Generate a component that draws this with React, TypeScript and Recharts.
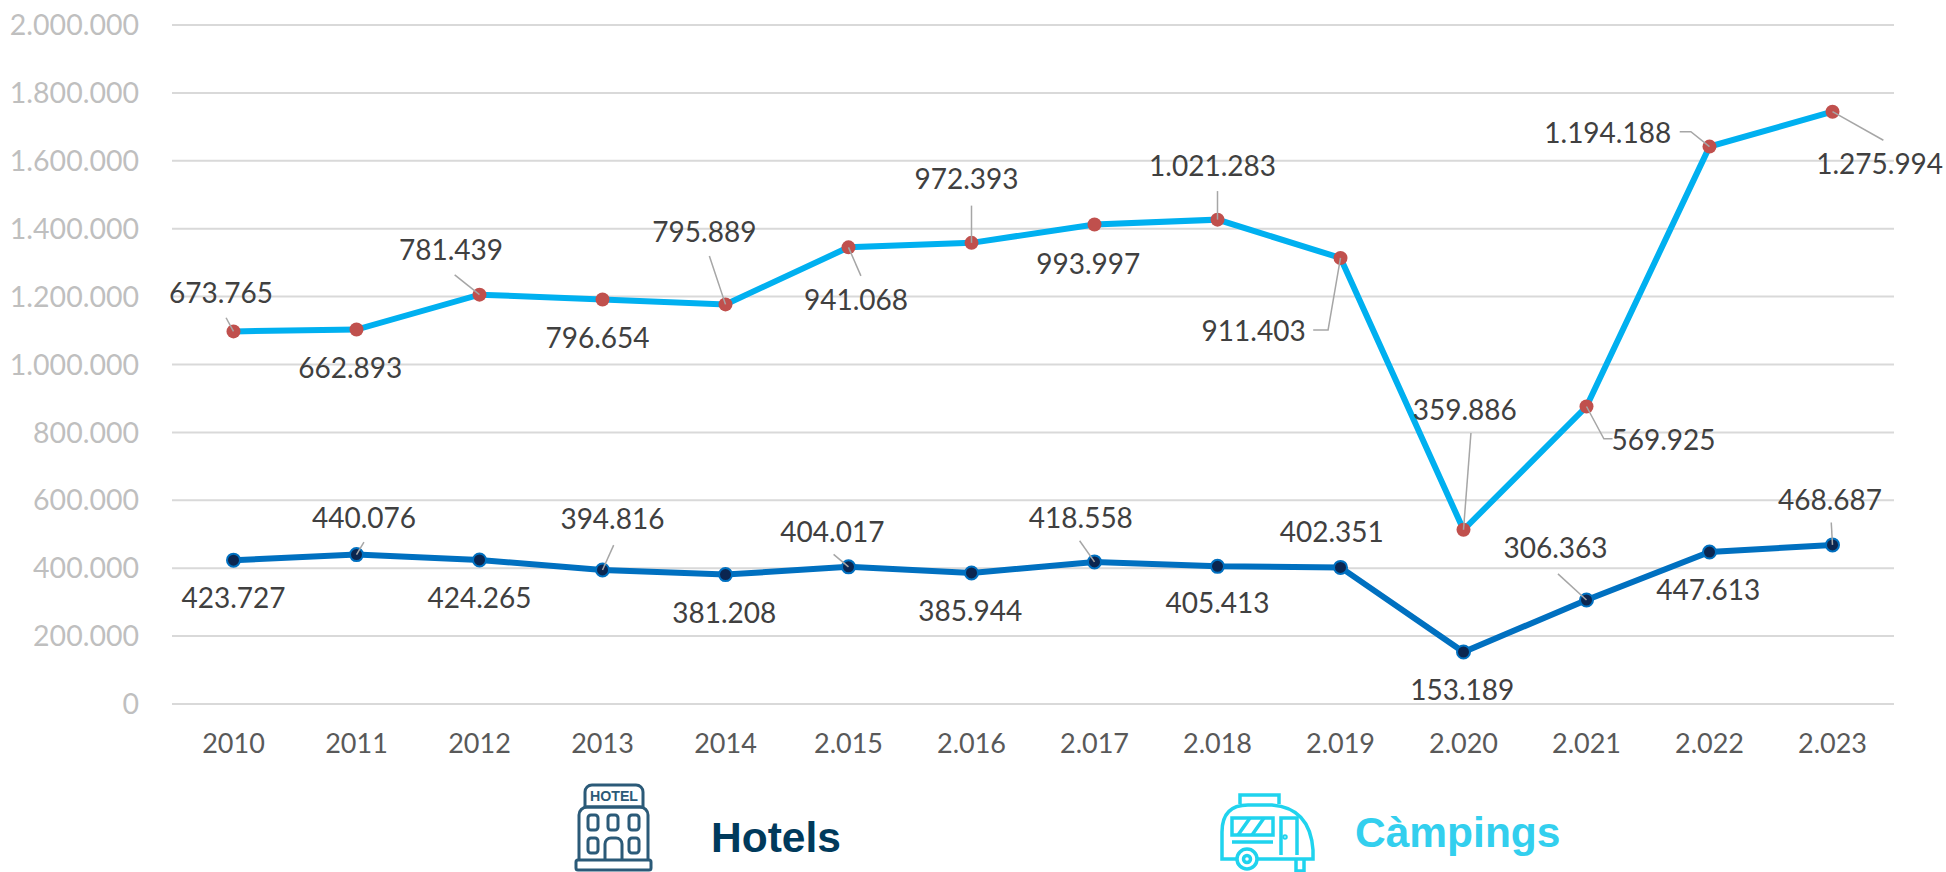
import React from 'react';
import { LineChart, Line, XAxis, YAxis, CartesianGrid, LabelList } from 'recharts';

const years = ['2010', '2011', '2012', '2013', '2014', '2.015', '2.016', '2.017', '2.018', '2.019', '2.020', '2.021', '2.022', '2.023'];
const hotels = [423727, 440076, 424265, 394816, 381208, 404017, 385944, 418558, 405413, 402351, 153189, 306363, 447613, 468687];
const campings = [673765, 662893, 781439, 796654, 795889, 941068, 972393, 993997, 1021283, 911403, 359886, 569925, 1194188, 1275994];
const yTicks = [0, 200000, 400000, 600000, 800000, 1000000, 1200000, 1400000, 1600000, 1800000, 2000000];

const data = years.map((year, i) => ({
  year,
  hotels: hotels[i],
  campings: campings[i],
  total: hotels[i] + campings[i],
}));

const fmt = (v: number) => String(v).replace(/\B(?=(\d{3})+(?!\d))/g, '.');

const FONT = 'Lato, "Open Sans", sans-serif';
const K = 1.241;
type Place = { dx: number; dy: number; leader?: number[][] };

const campingPlaces: Place[] = [
  { dx: -10, dy: -32, leader: [[-6, -11]] },
  { dx: -5, dy: 30 },
  { dx: -23, dy: -37, leader: [[-20, -16]] },
  { dx: -4, dy: 30 },
  { dx: -17, dy: -59, leader: [[-13, -39]] },
  { dx: 6, dy: 42, leader: [[10, 23]] },
  { dx: -4, dy: -52, leader: [[0, -30]] },
  { dx: -5, dy: 31 },
  { dx: -4, dy: -44, leader: [[0, -23]] },
  { dx: -70, dy: 58, leader: [[-10, 58], [-22, 58]] },
  { dx: 1, dy: -97, leader: [[6, -78]] },
  { dx: 62, dy: 26, leader: [[14, 26], [21, 26]] },
  { dx: -82, dy: -12, leader: [[-15, -12], [-24, -12]] },
  { dx: 38, dy: 41, leader: [[41, 23]] },
];

const hotelPlaces: Place[] = [
  { dx: 0, dy: 30 },
  { dx: 6, dy: -30, leader: [[6, -10]] },
  { dx: 0, dy: 30 },
  { dx: 8, dy: -42, leader: [[9, -20]] },
  { dx: -1, dy: 30 },
  { dx: -13, dy: -29, leader: [[-12, -10]] },
  { dx: -1, dy: 30 },
  { dx: -11, dy: -36, leader: [[-12, -17]] },
  { dx: 0, dy: 29 },
  { dx: -7, dy: -29 },
  { dx: -1, dy: 30 },
  { dx: -25, dy: -43, leader: [[-23, -21]] },
  { dx: -1, dy: 30 },
  { dx: -2, dy: -37, leader: [[-1, -18]] },
];

const makeLabel = (places: Place[], values: number[]) => (props: any) => {
  const { x, y, index } = props;
  const p = places[index];
  const pts = p.leader ? [[0, 0], ...p.leader] : null;
  return (
    <g>
      {pts && (
        <polyline
          points={pts.map(([a, b]) => `${x + a * K},${y + b * K}`).join(' ')}
          fill="none"
          stroke="#a6a6a6"
          strokeWidth={1.5}
        />
      )}
      <text
        x={x + p.dx * K}
        y={y + p.dy * K}
        textAnchor="middle"
        dominantBaseline="central"
        fontFamily={FONT}
        fontSize={28}
        fill="#404040"
      >
        {fmt(values[index])}
      </text>
    </g>
  );
};

const Overlay = () => (
  <svg width={1946} height={872} style={{ position: 'absolute', left: 0, top: 0, pointerEvents: 'none' }}>
    <g fill="none" stroke="#2b5a78" strokeWidth={3}>
      <path d="M585 807V792a7 7 0 0 1 7-7h44a7 7 0 0 1 7 7V807Z" />
      <path d="M579 860V815a8 8 0 0 1 8-8h53a8 8 0 0 1 8 8V860" />
      <rect x={576} y={860} width={75} height={10} rx={2} />
      <rect x={588} y={815} width={10} height={15} rx={3} />
      <rect x={608} y={815} width={10} height={15} rx={3} />
      <rect x={629} y={815} width={10} height={15} rx={3} />
      <rect x={588} y={838} width={10} height={15} rx={3} />
      <path d="M605 860V844a6 6 0 0 1 6-6h5a6 6 0 0 1 6 6V860" />
      <rect x={629} y={838} width={10} height={15} rx={3} />
    </g>
    <text x={614} y={801} textAnchor="middle" fontFamily="Liberation Sans, sans-serif" fontWeight={700} fontSize={15.5} textLength={48} lengthAdjust="spacingAndGlyphs" fill="#2b5a78">HOTEL</text>
    <g fill="none" stroke="#1fd3ee" strokeWidth={3.5}>
      <path d="M1240 804V795H1279V804" />
      <path d="M1236 859H1222V832Q1222 805 1248 805H1272Q1310 808 1313 850V859H1258" />
      <rect x={1232} y={818} width={41} height={17} />
      <path d="M1238 835L1250 818M1252 835L1264 818M1232 842H1273" />
      <path d="M1281 855V818H1297V855" />
      <circle cx={1285} cy={837} r={1} />
      <circle cx={1247} cy={859} r={10} />
      <circle cx={1247} cy={859} r={3.5} />
      <path d="M1296 860V871H1304V860" />
    </g>
    <text x={711} y={852} fontFamily="Liberation Sans, sans-serif" fontWeight={700} fontSize={42.5} fill="#003a5c">Hotels</text>
    <text x={1355} y={847} fontFamily="Liberation Sans, sans-serif" fontWeight={700} fontSize={42.5} fill="#33cfee">Càmpings</text>
  </svg>
);

export default function App() {
  return (
    <div style={{ position: 'absolute', left: 0, top: 0, width: 1946, height: 872, background: '#fff', overflow: 'hidden' }}>
      <LineChart width={1946} height={872} data={data} margin={{ top: 25, right: 52, bottom: 108, left: 0 }}>
        <CartesianGrid horizontal vertical={false} stroke="#d9d9d9" strokeWidth={2} />
        <XAxis
          dataKey="year"
          interval={0}
          height={60}
          padding={{ left: 61.5, right: 61.5 }}
          axisLine={{ stroke: '#d9d9d9', strokeWidth: 2 }}
          tickLine={false}
          tickMargin={24}
          tick={{ fontFamily: FONT, fontSize: 27, fill: '#595959' }}
        />
        <YAxis
          width={172}
          domain={[0, 2000000]}
          ticks={yTicks}
          tickFormatter={fmt}
          axisLine={false}
          tickLine={false}
          tickMargin={27}
          tick={{ fontFamily: FONT, fontSize: 28.5, fill: '#bfbfbf' }}
        />
        <Line
          dataKey="hotels"
          stroke="#0070c0"
          strokeWidth={6}
          isAnimationActive={false}
          dot={{ r: 6.5, fill: '#0b2650', stroke: '#0070c0', strokeWidth: 2 }}
        >
          <LabelList dataKey="hotels" content={makeLabel(hotelPlaces, hotels)} />
        </Line>
        <Line
          dataKey="total"
          stroke="#00b0f0"
          strokeWidth={6}
          isAnimationActive={false}
          dot={{ r: 7, fill: '#c0504d', stroke: '#c0504d', strokeWidth: 0 }}
        >
          <LabelList dataKey="total" content={makeLabel(campingPlaces, campings)} />
        </Line>
      </LineChart>
      <Overlay />
    </div>
  );
}
